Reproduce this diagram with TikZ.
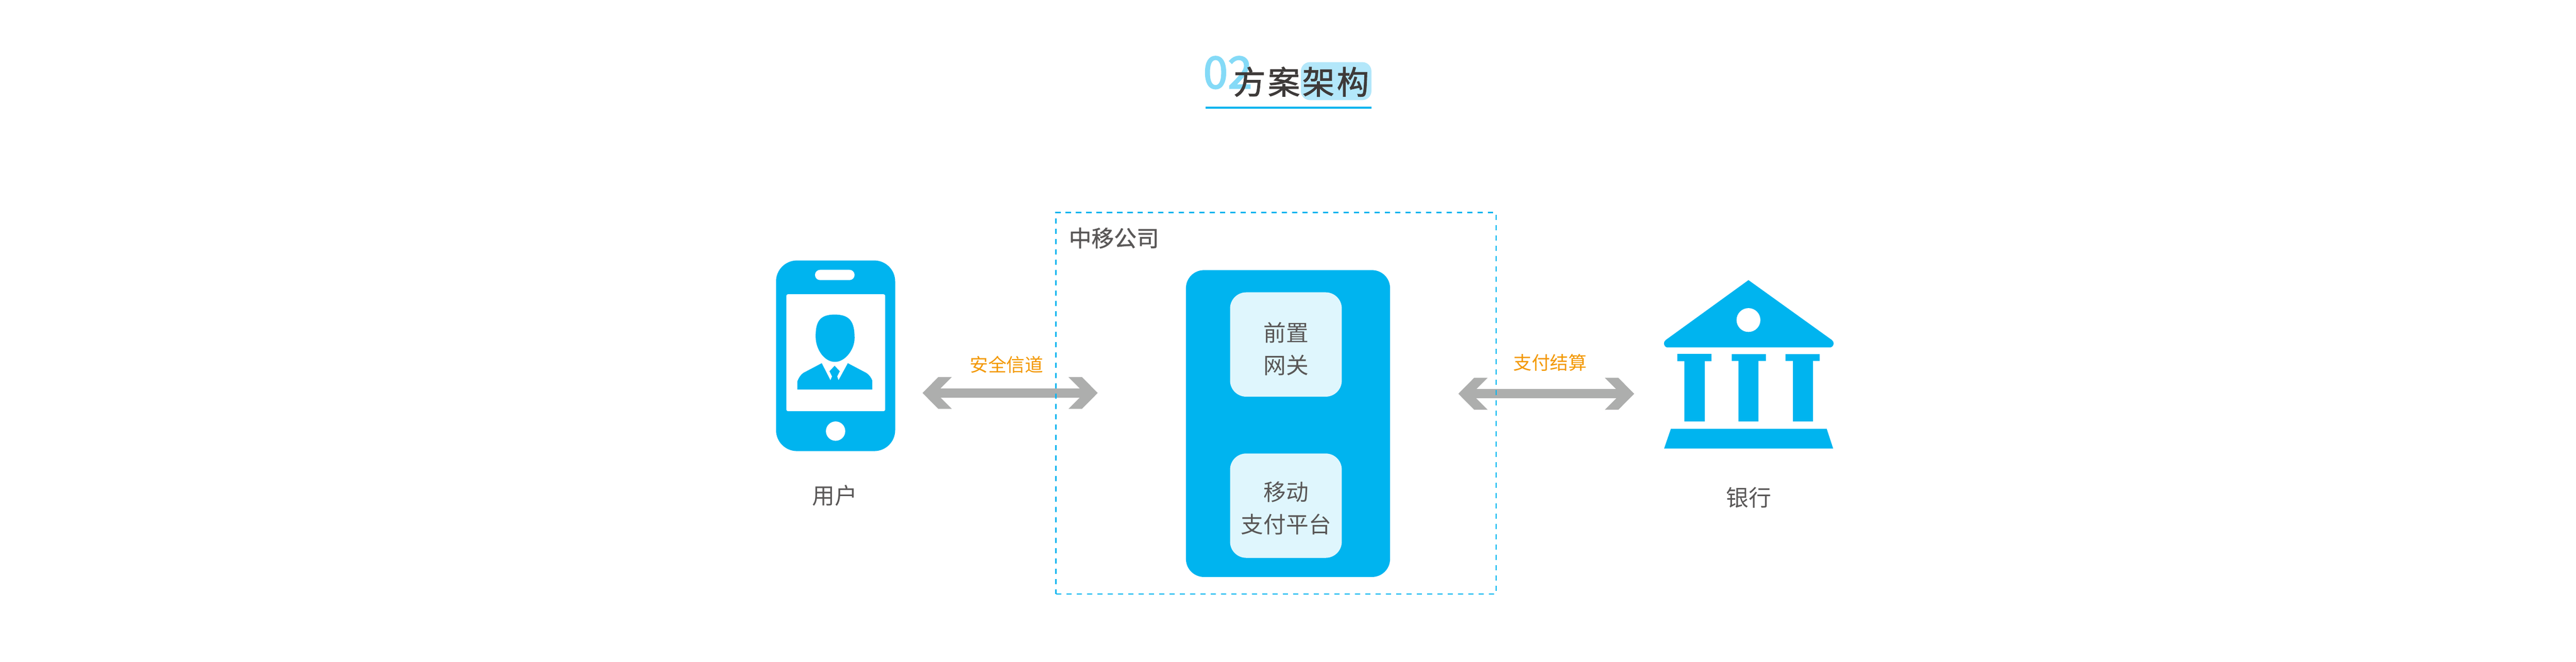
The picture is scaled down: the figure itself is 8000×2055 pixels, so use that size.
\documentclass[tikz,border=0pt]{standalone}
\usepackage{fontspec}
\newfontfamily\cjk{Noto Sans CJK SC}
\newfontfamily\cjktitle[FakeBold=1.5]{Noto Sans CJK SC}
\newfontfamily\cjkm[FakeBold=1.1]{Noto Sans CJK SC}
\newfontfamily\cjknum[FakeBold=2.5]{Noto Sans CJK SC}
\definecolor{brand}{HTML}{00B4EF}
\definecolor{pale}{HTML}{DFF6FD}
\definecolor{hilite}{HTML}{B3E7FA}
\definecolor{digit}{HTML}{84DAF7}
\definecolor{ink}{HTML}{595757}
\definecolor{titleink}{HTML}{3E3A39}
\definecolor{amber}{HTML}{F39800}
\definecolor{rail}{HTML}{ADAEAD}
\tikzset{
  x=0.1pt,y=-0.1pt,
  solidblue/.style={fill=brand,draw=none},
  cutout/.style={fill=white,draw=none},
  caption/.style={inner sep=0pt,text=ink,font=\cjk\fontsize{7}{10}\selectfont,align=center},
  linklabel/.style={inner sep=0pt,text=amber,font=\cjk\fontsize{5.7}{7}\selectfont},
  rackbox/.style={fill=brand,draw=none,rounded corners=5.6pt,minimum width=63.4pt,minimum height=95.3pt,inner sep=0pt},
  unitbox/.style={fill=pale,draw=none,rounded corners=5pt,minimum width=34.7pt,minimum height=32.4pt,inner sep=0pt},
  zonebox/.style={draw=brand,line width=0.4pt,dash pattern=on 1.65pt off 1.55pt,minimum width=136.65pt,minimum height=118.5pt,inner sep=0pt,outer sep=0pt},
  shaft/.style={draw=rail,line width=2.9pt,shorten <=3pt,shorten >=3pt},
  chevron/.pic={\fill[rail] (0,0) -- (49,-49.5) -- (91,-49.5) -- (56,-14.5) -- (56,14.5) -- (91,49.5) -- (49,49.5) -- cycle;},
}
\begin{document}
\begin{tikzpicture}
\useasboundingbox (0,0) rectangle (8000,2055);
\fill[white] (0,0) rectangle (8000,2055);

% title
\node[inner sep=0pt,text=digit,font=\cjknum\fontsize{13.7}{14}\selectfont] (num) at (3813,225.5) {02};
\fill[hilite,rounded corners=2.8pt] (4040,193) rectangle (4259,311);
\node[inner sep=0pt,text=titleink,font=\cjktitle\fontsize{10}{10}\selectfont] (title) at (4041,254) {方\kern0.7pt案\kern0.7pt架\kern0.7pt构};
\draw[brand,line width=0.6pt] (3744,334.5) -- (4259,334.5);

% phone icon
\fill[solidblue,rounded corners=6.5pt] (2410,809) rectangle (2780,1401);
\fill[cutout,rounded corners=1.6pt] (2531,838) rectangle (2654,870);
\fill[cutout,rounded corners=0.5pt] (2442,914) rectangle (2749,1277);
\fill[cutout] (2595,1339) circle (3pt);
\fill[solidblue] (2592,977) .. controls (2640,977) and (2654,1000) .. (2654,1050)
  .. controls (2654,1085) and (2625,1124) .. (2593,1124)
  .. controls (2560,1124) and (2533,1085) .. (2533,1045)
  .. controls (2533,1000) and (2545,977) .. (2592,977) -- cycle;
\fill[solidblue] (2476,1210) -- (2476,1185) .. controls (2480,1175) and (2485,1165) .. (2495,1158)
  -- (2552,1128) -- (2579,1181) -- (2584,1169) -- (2576,1153) -- (2592,1136) -- (2608,1153)
  -- (2600,1169) -- (2604,1181) -- (2633,1128) -- (2690,1158)
  .. controls (2700,1165) and (2705,1172) .. (2709,1182) -- (2709,1210) -- cycle;
\node[caption] (user) at (2592,1539.5) {用户};

% bank icon
\fill[solidblue] (5430,870) -- (5689,1056) .. controls (5697,1062) and (5697,1075) .. (5685,1079)
  -- (5177,1079) .. controls (5165,1075) and (5165,1062) .. (5173,1056) -- cycle;
\fill[cutout] (5430,994) circle (3.7pt);
\fill[solidblue] (5209,1099) rectangle (5315,1122) (5231,1110) rectangle (5294,1309);
\fill[solidblue] (5378,1100) rectangle (5484,1121) (5399,1110) rectangle (5461,1309);
\fill[solidblue] (5545,1100) rectangle (5651,1121) (5568,1110) rectangle (5630,1309);
\fill[solidblue] (5189,1332) -- (5673,1332) -- (5693,1393) -- (5168,1393) -- cycle;
\node[caption] (bank) at (5431,1546) {银行};

% block arrows
\coordinate (a1) at (2865,1220.5);
\coordinate (a2) at (3409,1220.5);
\coordinate (b1) at (4529,1223);
\coordinate (b2) at (5075,1223);
\draw[shaft] (a1) -- (a2);
\draw[shaft] (b1) -- (b2);
\pic at (a1) {chevron};
\pic[xscale=-1] at (a2) {chevron};
\pic at (b1) {chevron};
\pic[xscale=-1] at (b2) {chevron};
\node[linklabel] (secure) at (3126,1133) {安全信道};
\node[linklabel] (settle) at (4814,1127) {支付结算};

% company zone
\node[zonebox] (zone) at (3962.75,1252.5) {};
\node[inner sep=0pt,text=ink,font=\cjkm\fontsize{7}{7}\selectfont] (zonename) at (3459.5,739.5) {中移公司};
\node[rackbox] (rack) at (4000,1315.5) {};
\node[unitbox] (gw) at (3993.5,1070) {};
\node[unitbox] (pay) at (3993.5,1570.5) {};
\node[caption] (gwtext) at (3994,1084) {前置\\网关};
\node[caption] (paytext) at (3994,1578) {移动\\支付平台};
\end{tikzpicture}
\end{document}
